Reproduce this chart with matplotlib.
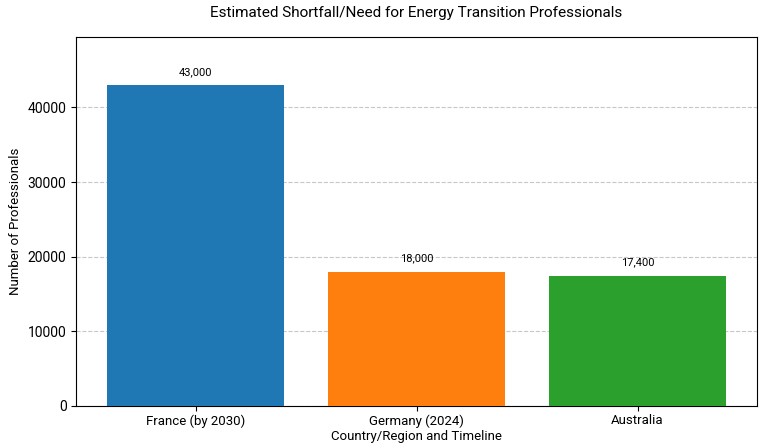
import matplotlib.pyplot as plt

plt.rcParams['font.family'] = ['Roboto', 'DejaVu Sans']

countries = ['France (by 2030)', 'Germany (2024)', 'Australia']
professionals = [43000, 18000, 17400]
colors = ['#1f77b4', '#ff7f0e', '#2ca02c']


def main():
    fig, ax = plt.subplots(figsize=(7.7, 4.45), dpi=100)
    bars = ax.bar(countries, professionals, color=colors, width=0.8, zorder=3)

    for bar, val in zip(bars, professionals):
        ax.annotate(f'{val:,}', (bar.get_x() + bar.get_width() / 2, bar.get_height()),
                    xytext=(0, 6), textcoords='offset points',
                    ha='center', va='bottom', fontsize=8)

    ax.set_ylim(0, max(professionals) * 1.15)
    ax.yaxis.grid(True, linestyle='--', alpha=0.7, zorder=0)
    ax.set_xlabel('Country/Region and Timeline', fontsize=9.5, labelpad=2)
    ax.set_ylabel('Number of Professionals', fontsize=9.5)
    ax.set_title('Estimated Shortfall/Need for Energy Transition Professionals',
                 fontsize=11, pad=14)
    ax.tick_params(axis='x', labelsize=9.5, pad=2.5)
    ax.tick_params(axis='y', labelsize=10)

    fig.subplots_adjust(left=0.099, right=0.983, top=0.917, bottom=0.088)
    fig.savefig('out.png')


if __name__ == "__main__":
    main()
